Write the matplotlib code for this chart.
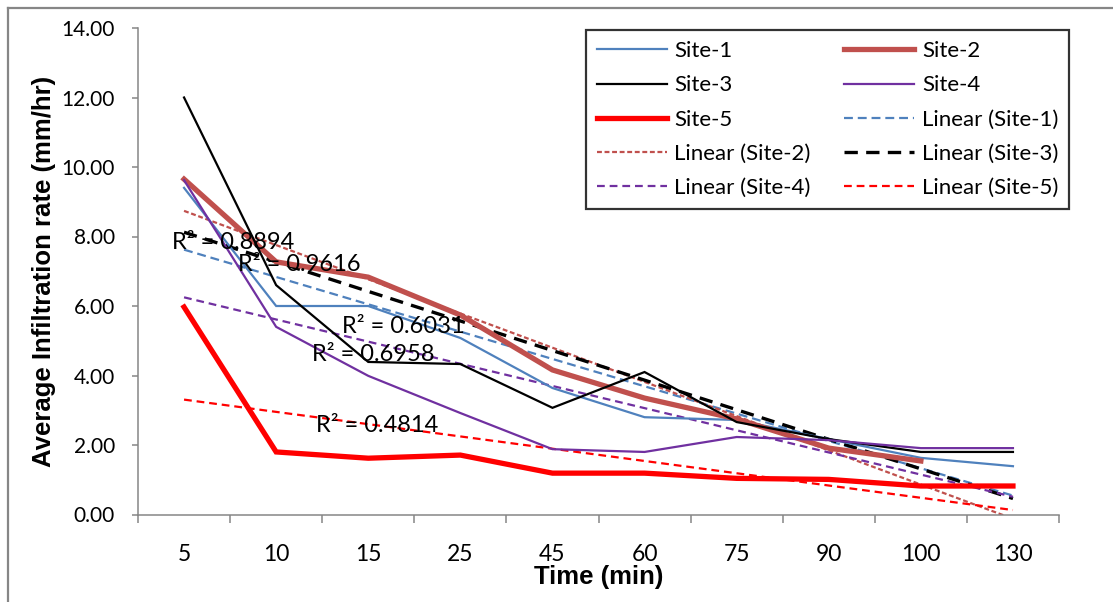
import matplotlib
matplotlib.use("Agg")
import matplotlib.pyplot as plt
from matplotlib.lines import Line2D
import numpy as np

# time categories (min)
times = ["5", "10", "15", "25", "45", "60", "75", "90", "100", "130"]

# average infiltration rate (mm/hr)
site1 = [9.40, 6.00, 6.00, 5.08, 3.64, 2.80, 2.72, 2.17, 1.63, 1.39]
site2 = [9.65, 7.27, 6.83, 5.74, 4.16, 3.35, 2.75, 1.91, 1.54, np.nan]
site3 = [12.00, 6.60, 4.39, 4.33, 3.07, 4.10, 2.66, 2.17, 1.80, 1.80]
site4 = [9.62, 5.40, 3.99, 2.92, 1.88, 1.80, 2.23, 2.14, 1.91, 1.91]
site5 = [5.97, 1.80, 1.62, 1.71, 1.19, 1.19, 1.04, 1.01, 0.82, 0.82]

names = ["Site-1", "Site-2", "Site-3", "Site-4", "Site-5"]
r2_labels = ["R\u00b2 = 0.8894", "R\u00b2 = 0.9616", "R\u00b2 = 0.6031",
             "R\u00b2 = 0.6958", "R\u00b2 = 0.4814"]

colors = ["#4F81BD", "#C0504D", "#000000", "#7030A0", "#FF0000"]
widths = [1.6, 3.8, 1.6, 1.6, 3.8]
trend_dash = [(4, 2.2), (2.2, 1.2), (4, 2.5), (3.5, 2.2), (3.5, 2.2)]
trend_width = [1.6, 1.6, 2.4, 1.6, 1.6]

fig = plt.figure(figsize=(11.13, 6.02), dpi=100)
ax = fig.add_axes([138 / 1113, 1 - 514.5 / 602, 921 / 1113, 486.5 / 602])

x = np.arange(len(times))
series = [site1, site2, site3, site4, site5]
line_h = []
trend_h = []
for i, vals in enumerate(series):
    y = np.array(vals, dtype=float)
    h, = ax.plot(x, y, color=colors[i], lw=widths[i], label=names[i],
                 solid_joinstyle="miter", zorder=3)
    line_h.append(h)
for i, vals in enumerate(series):
    y = np.array(vals, dtype=float)
    ok = ~np.isnan(y)
    k, b = np.polyfit(x[ok], y[ok], 1)
    t, = ax.plot(x, k * x + b, color=colors[i], lw=trend_width[i],
                 dashes=trend_dash[i], label="Linear (%s)" % names[i], zorder=2)
    trend_h.append(t)

# R² labels
r2_pos = [(0.53, 7.84), (1.25, 7.18), (2.38, 5.42), (2.05, 4.59), (2.1, 2.55)]
for (px, py), s in zip(r2_pos, r2_labels):
    ax.text(px, py, s, ha="center", va="center", fontsize=17,
            family="Lato", color="black", zorder=5)

ax.set_xlim(-0.5, len(times) - 0.5)
ax.set_ylim(0, 14)
ax.set_yticks(np.arange(0, 14.01, 2))
ax.set_yticklabels(["%.2f" % v for v in np.arange(0, 14.01, 2)])
ax.set_xticks(x)
ax.set_xticklabels(times)
ax.set_xticks(np.arange(-0.5, len(times)), minor=True)
ax.tick_params(axis="x", which="major", length=0, pad=21, labelsize=16.5)
ax.tick_params(axis="x", which="minor", length=6, width=1.1, color="#868686")
ax.tick_params(axis="y", length=4.5, width=1.1, color="#868686", pad=12,
               labelsize=15)
for lab in ax.get_xticklabels() + ax.get_yticklabels():
    lab.set_family("Lato")

for side in ["top", "right"]:
    ax.spines[side].set_visible(False)
for side in ["left", "bottom"]:
    ax.spines[side].set_color("#868686")
    ax.spines[side].set_linewidth(1.1)

ax.set_ylabel("Average Infiltration rate (mm/hr)", fontsize=18.5,
              fontweight="bold", family="Liberation Sans", labelpad=4)
ax.set_xlabel("Time (min)", fontsize=18.5, fontweight="bold",
              family="Liberation Sans", labelpad=0)

# legend: row order as in the chart, matplotlib fills column-wise
order = [line_h[0], line_h[2], line_h[4], trend_h[1], trend_h[3],
         line_h[1], line_h[3], trend_h[0], trend_h[2], trend_h[4]]
leg = ax.legend(handles=order, labels=[h.get_label() for h in order],
                ncol=2, loc="upper left", bbox_to_anchor=(0.486, 0.996),
                frameon=True, fancybox=False, edgecolor="black",
                prop={"family": "Lato", "size": 16}, handlelength=3.15,
                labelspacing=0.64, columnspacing=1.5, borderpad=0.5,
                handletextpad=0.35, borderaxespad=0)
leg.get_frame().set_linewidth(1.6)

# chart area frame (left and top edges visible)
fig.add_artist(Line2D([7.5 / 1113, 7.5 / 1113], [0, 1 - 7.5 / 602],
                      color="#868686", lw=1.6, transform=fig.transFigure))
fig.add_artist(Line2D([7.5 / 1113, 1], [1 - 7.5 / 602, 1 - 7.5 / 602],
                      color="#868686", lw=1.6, transform=fig.transFigure))

fig.savefig("out.png", dpi=100)
